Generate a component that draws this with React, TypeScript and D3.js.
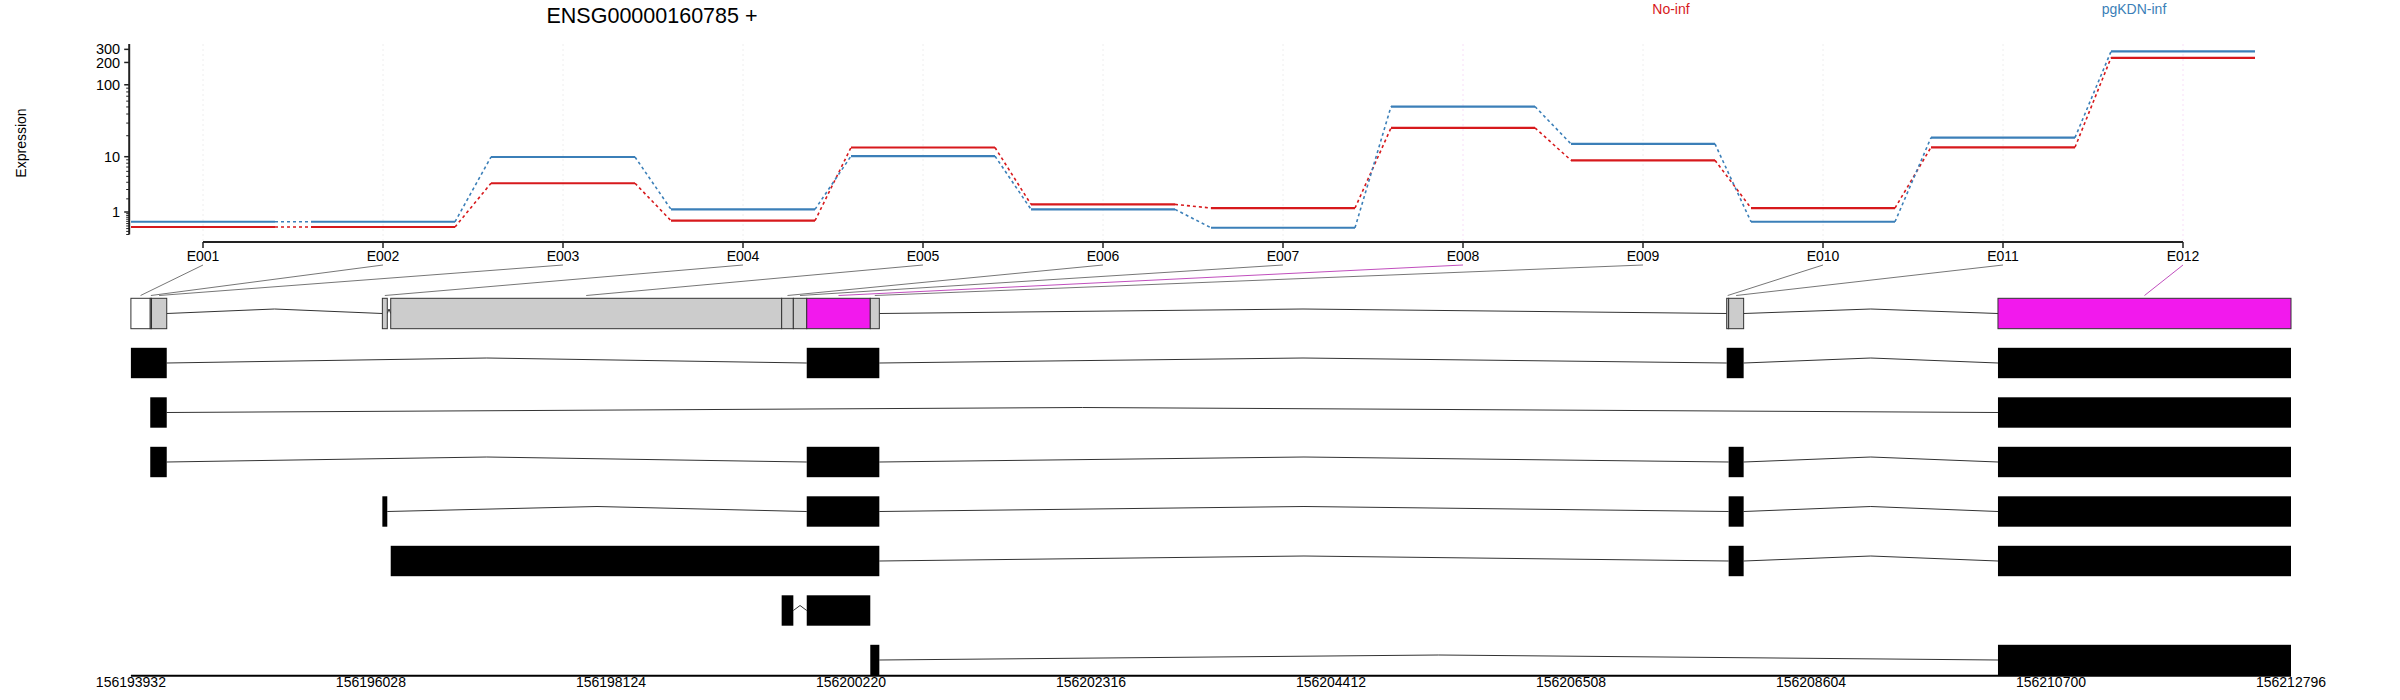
import React from 'react';
import * as d3 from 'd3';

// exon bins and mean expression per condition
const exonIds = ['E001', 'E002', 'E003', 'E004', 'E005', 'E006', 'E007', 'E008', 'E009', 'E010', 'E011', 'E012'];
const noInf = [0.26, 0.26, 3.85, 0.53, 13.6, 1.53, 1.26, 25.7, 8.85, 1.26, 13.7, 231];
const pgKDNInf = [0.48, 0.48, 9.9, 1.17, 10.2, 1.17, 0.23, 50.6, 15.3, 0.48, 18.8, 281];
const significant = ['E008', 'E012'];
const untested = ['E001'];

// genomic coordinates of the exon bins
const exonStart = [156193932, 156194101, 156194112, 156196128, 156196201, 156199615, 156199717, 156199834, 156200389, 156207868, 156207885, 156210237];
const exonEnd = [156194101, 156194112, 156194245, 156196171, 156199615, 156199717, 156199834, 156200389, 156200468, 156207885, 156208016, 156212796];

// transcripts as lists of exon bin numbers
const transcripts = [
  [1, 2, 3, 8, 9, 10, 11, 12],
  [2, 3, 12],
  [2, 3, 8, 9, 11, 12],
  [4, 8, 9, 11, 12],
  [5, 6, 7, 8, 9, 11, 12],
  [6, 8],
  [9, 12],
];

const yTickLabels = [1, 10, 100, 200, 300];
const yMinorTicks = [0, 0.1, 0.2, 0.3, 0.4, 0.5, 0.6, 0.7, 0.8, 0.9, 2, 3, 4, 5, 6, 7, 8, 9, 20, 30, 40, 50, 60, 70, 80, 90];
const genomicTicks = [156193932, 156196028, 156198124, 156200220, 156202316, 156204412, 156206508, 156208604, 156210700, 156212796];

const title = 'ENSG00000160785 +';
const conditions = ['No-inf', 'pgKDN-inf'];
const RED = '#D7191C';
const BLUE = '#3B7FB8';
const MAGENTA = '#F219ED';
const FONT = '"Liberation Sans", Arial, Helvetica, sans-serif';

export default function App() {
  const width = 2400;
  const height = 700;

  const x = d3.scaleLinear().domain([1, 12]).range([203, 2183]);
  const yLin = d3.scaleLinear().domain([Math.log10(2), Math.log10(11)]).range([212, 156.7]);
  const y = (v: number) => yLin(Math.log10(v + 1));
  const axisX = x(0.59);
  const yTop = 44;
  const xAxisY = 242;

  const gx = d3.scaleLinear().domain([156193932, 156212796]).range([130.9, 2291]);
  const rowY = d3.scaleLinear().domain([0, 7]).range([298.3, 644.8]);
  const boxH = 30.4;

  const exonFill = (id: string) =>
    significant.includes(id) ? MAGENTA : untested.includes(id) ? '#FFFFFF' : '#CCCCCC';

  const segLine = (vals: number[], color: string, key: string) => (
    <g key={key}>
      {vals.map((v, i) => (
        <line key={'s' + i} x1={x(i + 1 - 0.4)} x2={x(i + 1 + 0.4)} y1={y(v)} y2={y(v)}
          stroke={color} strokeWidth={2.2} />
      ))}
      {vals.slice(1).map((v, i) => (
        <line key={'d' + i} x1={x(i + 1 + 0.4)} x2={x(i + 2 - 0.4)} y1={y(vals[i])} y2={y(v)}
          stroke={color} strokeWidth={1.6} strokeDasharray="3,3" />
      ))}
    </g>
  );

  // merge touching exons of a transcript into boxes
  const boxesFor = (ids: number[]) => {
    const out: [number, number][] = [];
    ids.forEach((n) => {
      const s = exonStart[n - 1];
      const e = exonEnd[n - 1];
      const last = out[out.length - 1];
      if (last && last[1] === s) last[1] = e;
      else out.push([s, e]);
    });
    return out;
  };

  const intron = (a: number, b: number, yc: number, h: number, key: string) => {
    const line = d3.line<[number, number]>();
    const p1 = gx(a);
    const p2 = gx(b);
    return (
      <path key={key} d={line([[p1, yc], [(p1 + p2) / 2, yc - h], [p2, yc]]) || ''}
        fill="none" stroke="#333" strokeWidth={1} />
    );
  };

  const geneBoxes = boxesFor(exonIds.map((_, i) => i + 1));
  const gTop = rowY(0);

  return (
    <div style={{ height: 700, overflow: 'hidden' }}>
      <style>{'body{margin:0;overflow:hidden}'}</style>
      <svg width={width} height={height} style={{ display: 'block', fontFamily: FONT }}>
        <rect width={width} height={height} fill="#fff" />

        <text x={652} y={22.7} fontSize={21.5} textAnchor="middle">{title}</text>
        <text x={1671} y={14} fontSize={14} textAnchor="middle" fill={RED}>{conditions[0]}</text>
        <text x={2134} y={14} fontSize={14} textAnchor="middle" fill={BLUE}>{conditions[1]}</text>

        {/* grid */}
        {exonIds.map((id, i) => (
          <line key={'g' + id} x1={x(i + 1)} x2={x(i + 1)} y1={yTop} y2={xAxisY}
            stroke={significant.includes(id) ? '#F8DDF7' : '#EEEEEE'} strokeWidth={1} strokeDasharray="2,3" />
        ))}

        {/* y axis */}
        <line x1={axisX} x2={axisX} y1={yTop} y2={y(0)} stroke="#222" strokeWidth={2} />
        {yMinorTicks.map((t) => (
          <line key={'m' + t} x1={axisX - 3} x2={axisX} y1={y(t)} y2={y(t)} stroke="#222" strokeWidth={1} />
        ))}
        {yTickLabels.map((t) => (
          <g key={'t' + t}>
            <line x1={axisX - 5} x2={axisX} y1={y(t)} y2={y(t)} stroke="#222" strokeWidth={1.5} />
            <text x={axisX - 9} y={y(t)} dy="0.35em" fontSize={14.5} textAnchor="end">{t}</text>
          </g>
        ))}
        <text transform={`translate(21,143) rotate(-90)`} fontSize={14} textAnchor="middle" dy="0.35em">Expression</text>

        {segLine(noInf, RED, 'red')}
        {segLine(pgKDNInf, BLUE, 'blue')}

        {/* x axis with exon labels */}
        <line x1={x(1)} x2={x(12)} y1={xAxisY} y2={xAxisY} stroke="#222" strokeWidth={2} />
        {exonIds.map((id, i) => (
          <g key={'xl' + id}>
            <line x1={x(i + 1)} x2={x(i + 1)} y1={xAxisY} y2={xAxisY + 6} stroke="#222" strokeWidth={1.5} />
            <text x={x(i + 1)} y={261} fontSize={14} textAnchor="middle">{id}</text>
          </g>
        ))}

        {/* connectors from exon labels to gene model */}
        {exonIds.map((id, i) => (
          <line key={'c' + id} x1={x(i + 1)} y1={265}
            x2={gx((exonStart[i] + exonEnd[i]) / 2)} y2={gTop - 2.8}
            stroke={significant.includes(id) ? '#B93AB6' : '#666666'} strokeWidth={0.9} />
        ))}

        {/* gene model */}
        {geneBoxes.slice(1).map((b, i) => intron(geneBoxes[i][1], b[0], gTop + boxH / 2, 4.5, 'gi' + i))}
        {exonIds.map((id, i) => (
          <rect key={'ge' + id} x={gx(exonStart[i])} y={gTop}
            width={gx(exonEnd[i]) - gx(exonStart[i])} height={boxH}
            fill={exonFill(id)} stroke="#333" strokeWidth={1} />
        ))}

        {/* transcripts */}
        {transcripts.map((tr, k) => {
          const top = rowY(k + 1);
          const boxes = boxesFor(tr);
          return (
            <g key={'tr' + k}>
              {boxes.slice(1).map((b, i) => intron(boxes[i][1], b[0], top + boxH / 2, 5, 'ti' + i))}
              {boxes.map((b, i) => (
                <rect key={'tb' + i} x={gx(b[0])} y={top} width={Math.max(gx(b[1]) - gx(b[0]), 2)}
                  height={boxH} fill="#000" />
              ))}
            </g>
          );
        })}

        {/* genomic axis */}
        <line x1={gx(genomicTicks[0])} x2={gx(genomicTicks[genomicTicks.length - 1])} y1={675.7} y2={675.7}
          stroke="#000" strokeWidth={2} />
        {genomicTicks.map((t) => (
          <text key={'gt' + t} x={gx(t)} y={686.5} fontSize={14} textAnchor="middle">{t}</text>
        ))}
      </svg>
    </div>
  );
}
